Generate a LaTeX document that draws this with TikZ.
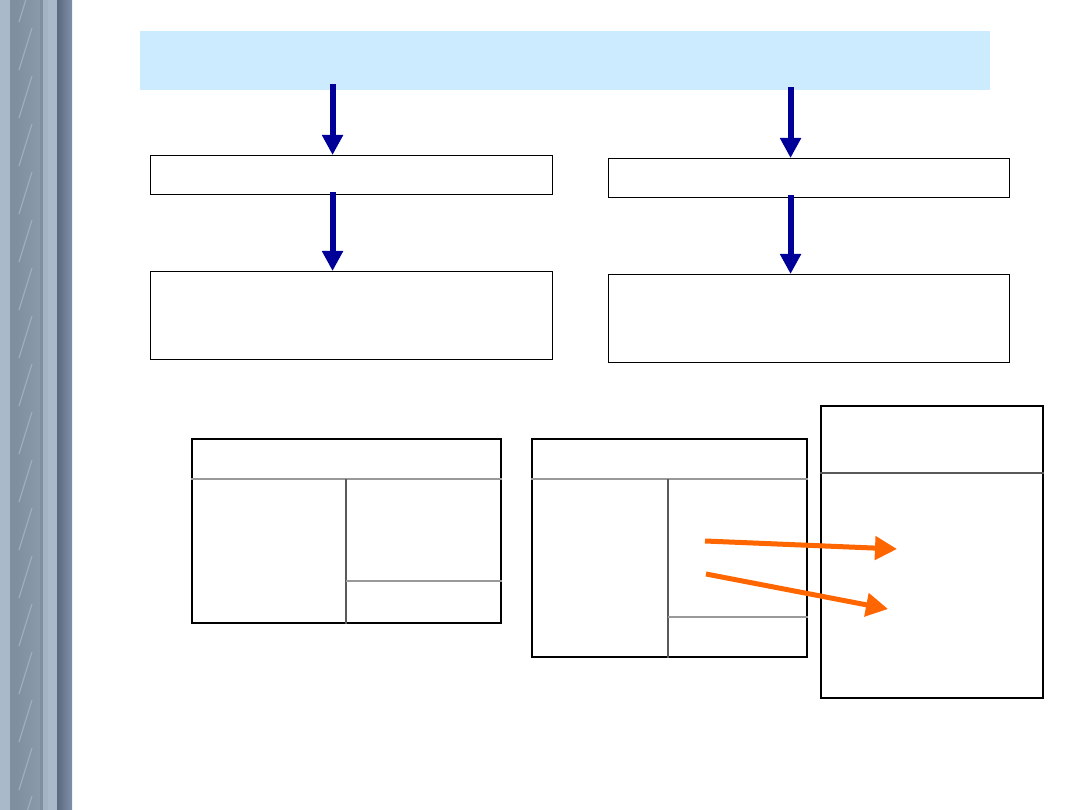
\documentclass[tikz,border=0pt]{standalone}
\usetikzlibrary{arrows.meta,calc}

\definecolor{bannerblue}{HTML}{CCEBFE}
\definecolor{navyarrow}{HTML}{000099}
\definecolor{orangearrow}{HTML}{FF6600}
\definecolor{stripA}{HTML}{A9B9C9}
\definecolor{stripB}{HTML}{7F8F9F}
\definecolor{stripC}{HTML}{8A9AAA}
\definecolor{stripD}{HTML}{A3B3C3}
\definecolor{stripE}{HTML}{5B687F}
\definecolor{stripF}{HTML}{8190AA}

\tikzset{
  banner/.style={fill=bannerblue, draw=none, anchor=north west, inner sep=0pt},
  textbox/.style={draw=black, line width=1.1pt, anchor=north west, inner sep=0pt},
  tablebox/.style={draw=black, line width=1.6pt, anchor=north west, inner sep=0pt},
  rule/.style={draw=black!40, line width=1.3pt},
  colrule/.style={draw=black!65, line width=1.5pt},
  bluearrow/.style={draw=navyarrow, line width=6pt, -{Triangle[length=20pt,width=20pt]}},
  orangearrow/.style={draw=orangearrow, line width=5pt, -{Triangle[length=22pt,width=23pt]}}
}

\begin{document}
\begin{tikzpicture}[x=1pt, y=-1pt]
  \useasboundingbox (0,0) rectangle (1080,810);
  \fill[white] (0,0) rectangle (1080,810);

  % side strip
  \fill[stripA] (0,0) rectangle (10,810);
  \fill[stripB] (10,0) rectangle (16,810);
  \shade[left color=stripB, right color=stripC] (16,0) rectangle (40,810);
  \foreach \y in {-20,28,...,820} {
    \draw[stripD!80!stripC, line width=1.2pt] (19,\y+42) -- (32,\y);
  }
  \fill[stripB] (40,0) rectangle (43,810);
  \fill[stripD] (43,0) rectangle (48,810);
  \fill[stripA] (48,0) rectangle (57,810);
  \shade[left color=stripE, right color=stripF] (57,0) rectangle (72,810);

  % top banner and text boxes
  \node[banner, minimum width=850pt, minimum height=59pt] (banner) at (140,31) {};
  \node[textbox, minimum width=402pt, minimum height=39pt] (a1) at (150,155) {};
  \node[textbox, minimum width=402pt, minimum height=88pt] (a2) at (150,271) {};
  \node[textbox, minimum width=401pt, minimum height=39pt] (b1) at (608,158) {};
  \node[textbox, minimum width=401pt, minimum height=88pt] (b2) at (608,274) {};

  \draw[bluearrow] ($(banner.south -| a1.north)+(-19,-6)$) -- ([xshift=-19pt]a1.north);
  \draw[bluearrow] ($(a1.south)+(-19,-3)$) -- ([xshift=-19pt]a2.north);
  \draw[bluearrow] ($(banner.south -| b1.north)+(-18.5,-3)$) -- ([xshift=-18.5pt]b1.north);
  \draw[bluearrow] ($(b1.south)+(-18.5,-3)$) -- ([xshift=-18.5pt]b2.north);

  % tables
  \node[tablebox, minimum width=309pt, minimum height=184pt] (t1) at (191,438) {};
  \draw[rule] ($(t1.north west)+(0,41)$) -- ($(t1.north east)+(0,41)$);
  \draw[colrule] ($(t1.north west)+(155,41)$) -- ($(t1.south west)+(155,0)$);
  \draw[rule] ($(t1.north west)+(155,143)$) -- ($(t1.north east)+(0,143)$);

  \node[tablebox, minimum width=275pt, minimum height=218pt] (t2) at (531,438) {};
  \draw[rule] ($(t2.north west)+(0,41)$) -- ($(t2.north east)+(0,41)$);
  \draw[colrule, line width=1.1pt] ($(t2.north west)+(137,41)$) -- ($(t2.south west)+(137,0)$);
  \draw[rule] ($(t2.north west)+(137,179)$) -- ($(t2.north east)+(0,179)$);

  \node[tablebox, minimum width=222pt, minimum height=292pt] (t3) at (820,405) {};
  \draw[colrule, line width=1.1pt] ($(t3.north west)+(0,68)$) -- ($(t3.north east)+(0,68)$);

  % orange arrows
  \coordinate (o1s) at (705,541);
  \coordinate (o1e) at (897,549);
  \coordinate (o2s) at (706,574);
  \coordinate (o2e) at (888,609);
  \draw[orangearrow] (o1s) -- (o1e);
  \draw[orangearrow] (o2s) -- (o2e);
\end{tikzpicture}
\end{document}
